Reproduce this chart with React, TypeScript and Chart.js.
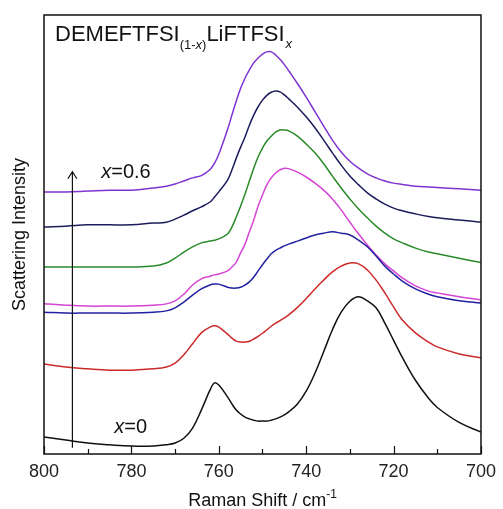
import { useEffect, useRef } from "react";
import { Chart, registerables } from "chart.js";

Chart.register(...registerables);

const FONT = '"Liberation Sans", Arial, Helvetica, sans-serif';

// Raman shift (cm^-1) sample positions
const ramanShift = [800, 795, 790, 785, 780, 775, 772, 770, 768, 766, 764, 762, 761, 760, 758, 757, 756, 755, 754, 753, 752, 751, 750, 749, 748, 747, 746, 745, 744, 742, 740, 738, 736, 734, 732, 730, 728, 726, 724, 722, 720, 718, 715, 712, 710, 705, 700];

// Scattering intensity (arb. units, offset curves), bottom (x=0) to top (x=0.6)
const seriesX0 = [3.9, 3.2, 2.5, 2.1, 1.8, 1.8, 2.1, 2.5, 3.6, 5.9, 10.0, 14.6, 16.2, 15.7, 13.0, 11.4, 10.0, 9.1, 8.4, 8.0, 7.7, 7.5, 7.5, 7.5, 7.7, 8.0, 8.4, 8.9, 9.6, 11.4, 14.3, 18.4, 23.3, 28.3, 32.3, 34.8, 35.8, 34.9, 33.3, 29.8, 25.9, 22.0, 16.8, 12.7, 10.6, 7.2, 5.0];
const seriesX1 = [20.5, 19.8, 19.4, 19.1, 19.1, 19.4, 19.8, 20.7, 22.6, 25.1, 27.6, 28.9, 29.2, 28.9, 27.3, 26.4, 25.7, 25.5, 25.5, 25.7, 26.2, 26.8, 27.5, 28.3, 29.1, 29.8, 30.4, 31.0, 31.7, 33.4, 35.4, 37.6, 39.6, 41.5, 42.8, 43.5, 43.3, 41.9, 39.6, 36.7, 33.5, 30.5, 27.6, 25.5, 24.4, 22.8, 21.9];
const seriesX2 = [32.3, 32.1, 32.1, 32.1, 32.1, 32.3, 32.6, 33.3, 34.6, 36.2, 37.6, 38.5, 38.7, 38.7, 38.0, 37.8, 37.8, 38.0, 38.5, 39.2, 40.3, 41.7, 43.1, 44.4, 45.6, 46.4, 46.9, 47.4, 47.8, 48.5, 49.2, 49.9, 50.3, 50.6, 50.3, 49.9, 48.7, 47.2, 45.1, 42.8, 41.0, 39.4, 37.6, 36.4, 35.8, 34.9, 34.4];
const seriesX3 = [34.2, 33.9, 33.7, 33.7, 33.7, 33.9, 34.2, 34.9, 36.4, 38.5, 39.9, 40.5, 40.8, 41.0, 41.7, 42.6, 43.7, 45.8, 47.8, 50.6, 53.3, 56.5, 59.0, 61.3, 62.9, 64.0, 64.7, 65.1, 65.0, 64.2, 63.1, 61.7, 60.1, 58.1, 55.6, 52.8, 50.1, 47.6, 45.3, 43.3, 41.7, 40.1, 38.3, 37.1, 36.7, 35.8, 35.1];
const seriesX4 = [42.6, 42.6, 42.6, 42.6, 42.6, 42.8, 43.5, 44.6, 46.0, 47.2, 48.1, 48.5, 48.7, 49.0, 50.1, 51.7, 54.0, 56.5, 59.2, 62.2, 65.1, 67.7, 69.7, 71.3, 72.4, 73.3, 73.8, 73.8, 73.6, 72.4, 70.6, 68.6, 66.1, 63.3, 60.6, 58.1, 55.8, 53.8, 51.9, 50.3, 49.0, 48.1, 46.9, 46.0, 45.6, 44.6, 43.6];
const seriesX5 = [51.7, 51.9, 52.2, 52.2, 52.2, 52.6, 52.8, 53.5, 54.4, 55.4, 56.3, 57.4, 58.5, 59.7, 62.4, 64.7, 67.4, 69.9, 72.2, 74.9, 77.2, 79.1, 80.6, 81.7, 82.4, 82.7, 82.5, 81.8, 80.9, 79.0, 76.8, 74.3, 71.5, 68.6, 65.8, 63.3, 61.3, 59.5, 58.1, 56.9, 56.0, 55.4, 54.7, 54.1, 53.8, 53.3, 52.8];
const seriesX6 = [59.7, 59.7, 59.9, 60.1, 60.1, 60.6, 61.0, 61.5, 62.2, 62.9, 63.4, 64.8, 66.2, 68.3, 73.9, 77.2, 80.4, 83.3, 85.6, 87.5, 89.1, 90.2, 91.1, 91.6, 91.6, 90.9, 89.9, 88.7, 87.3, 84.4, 81.3, 78.0, 74.7, 71.5, 68.8, 66.7, 65.1, 63.8, 62.9, 62.2, 61.7, 61.4, 61.0, 60.8, 60.7, 60.4, 60.1];

const seriesList = [seriesX0, seriesX1, seriesX2, seriesX3, seriesX4, seriesX5, seriesX6];
const seriesColors = ["#111111", "#cc2a2a", "#2222a0", "#d544d5", "#2a8a2a", "#1c1c5c", "#7e34d2"];

const xTicks = [800, 780, 760, 740, 720, 700];

// annotation anchors (data units)
const arrowShift = 793.5;
const arrowFrom = 1.4;
const arrowTo = 64.3;
const labelTop = { shift: 786.9, value: 62.8 };
const labelBottom = { shift: 783.9, value: 4.8 };

type Run = { t: string; size: number; italic?: boolean; dy?: number };

function drawRuns(ctx: CanvasRenderingContext2D, x: number, y: number, runs: Run[]) {
  let cx = x;
  for (const r of runs) {
    ctx.font = `${r.italic ? "italic " : ""}${r.size}px ${FONT}`;
    ctx.fillText(r.t, cx, y + (r.dy || 0));
    cx += ctx.measureText(r.t).width;
  }
  return cx;
}

function runsWidth(ctx: CanvasRenderingContext2D, runs: Run[]) {
  let w = 0;
  for (const r of runs) {
    ctx.font = `${r.italic ? "italic " : ""}${r.size}px ${FONT}`;
    w += ctx.measureText(r.t).width;
  }
  return w;
}

const overlay = {
  id: "overlay",
  afterDraw(chart: any) {
    const { ctx, chartArea: a, scales } = chart;
    const xs = scales.x;
    const ys = scales.y;
    ctx.save();
    // frame
    ctx.strokeStyle = "#111";
    ctx.lineWidth = 1.5;
    ctx.strokeRect(a.left, a.top, a.right - a.left, a.bottom - a.top);
    // inward ticks
    ctx.lineWidth = 1.2;
    for (let v = 700; v <= 800; v += 10) {
      const px = Math.round(xs.getPixelForValue(v)) + 0.5;
      const len = v % 20 === 0 ? 8 : 5;
      ctx.beginPath();
      ctx.moveTo(px, a.bottom);
      ctx.lineTo(px, a.bottom - len);
      ctx.stroke();
    }
    // arrow
    const ax = xs.getPixelForValue(arrowShift);
    const ay0 = ys.getPixelForValue(arrowFrom);
    const ay1 = ys.getPixelForValue(arrowTo);
    ctx.strokeStyle = "#111";
    ctx.lineWidth = 1.2;
    ctx.beginPath();
    ctx.moveTo(ax, ay0);
    ctx.lineTo(ax, ay1);
    ctx.moveTo(ax - 4.5, ay1 + 7);
    ctx.lineTo(ax, ay1);
    ctx.lineTo(ax + 4.5, ay1 + 7);
    ctx.stroke();

    ctx.fillStyle = "#111";
    ctx.textBaseline = "alphabetic";
    ctx.textAlign = "left";
    // title
    let cx = drawRuns(ctx, a.left + 11, a.top + 26, [{ t: "DEMEFTFSI", size: 22 }]);
    cx = drawRuns(ctx, cx, a.top + 34, [
      { t: "(1-", size: 13 },
      { t: "x", size: 13, italic: true },
      { t: ")", size: 13 },
    ]);
    cx = drawRuns(ctx, cx, a.top + 26, [{ t: "LiFTFSI", size: 22 }]);
    drawRuns(ctx, cx + 1, a.top + 33, [{ t: "x", size: 13, italic: true }]);

    // composition labels
    drawRuns(ctx, xs.getPixelForValue(labelTop.shift), ys.getPixelForValue(labelTop.value), [
      { t: "x", size: 20, italic: true },
      { t: "=0.6", size: 20 },
    ]);
    drawRuns(ctx, xs.getPixelForValue(labelBottom.shift), ys.getPixelForValue(labelBottom.value), [
      { t: "x", size: 20, italic: true },
      { t: "=0", size: 20 },
    ]);

    // x axis title
    const xr: Run[] = [
      { t: "Raman Shift / cm", size: 18 },
      { t: "-1", size: 12, dy: -8 },
    ];
    const w = runsWidth(ctx, xr);
    drawRuns(ctx, (a.left + a.right) / 2 - w / 2, 506, xr);

    // y axis title
    ctx.save();
    ctx.translate(25, (a.top + a.bottom) / 2);
    ctx.rotate(-Math.PI / 2);
    ctx.textAlign = "center";
    ctx.font = `18px ${FONT}`;
    ctx.fillText("Scattering Intensity", 0, 0);
    ctx.restore();

    ctx.restore();
  },
};

export default function App() {
  const ref = useRef<HTMLCanvasElement | null>(null);
  useEffect(() => {
    document.body.style.margin = "0";
    const canvas = ref.current;
    if (!canvas) return;
    const chart = new Chart(canvas, {
      type: "line",
      data: {
        datasets: seriesList.map((s, i) => ({
          data: ramanShift.map((x, j) => ({ x, y: s[j] })),
          borderColor: seriesColors[i],
          borderWidth: 1.5,
          pointRadius: 0,
          fill: false,
          tension: 0.4,
        })),
      },
      options: {
        animation: false,
        responsive: false,
        maintainAspectRatio: false,
        layout: { padding: { left: 44, right: 17, top: 15, bottom: 0 } },
        plugins: { legend: { display: false }, tooltip: { enabled: false } },
        scales: {
          x: {
            type: "linear",
            min: 700,
            max: 800,
            reverse: true,
            grid: { display: false, drawTicks: false },
            border: { display: false },
            afterBuildTicks: (scale: any) => {
              scale.ticks = xTicks.map((v) => ({ value: v }));
            },
            ticks: {
              padding: 7,
              color: "#222",
              maxRotation: 0,
              autoSkip: false,
              font: { family: FONT, size: 18 },
            },
            afterFit: (scale: any) => {
              scale.height = 55;
            },
          },
          y: { display: false, min: 0, max: 100 },
        },
      },
      plugins: [overlay],
    });
    return () => chart.destroy();
  }, []);
  return (
    <div style={{ width: 503, height: 509 }}>
      <canvas ref={ref} width={503} height={509} style={{ display: "block" }} />
    </div>
  );
}
